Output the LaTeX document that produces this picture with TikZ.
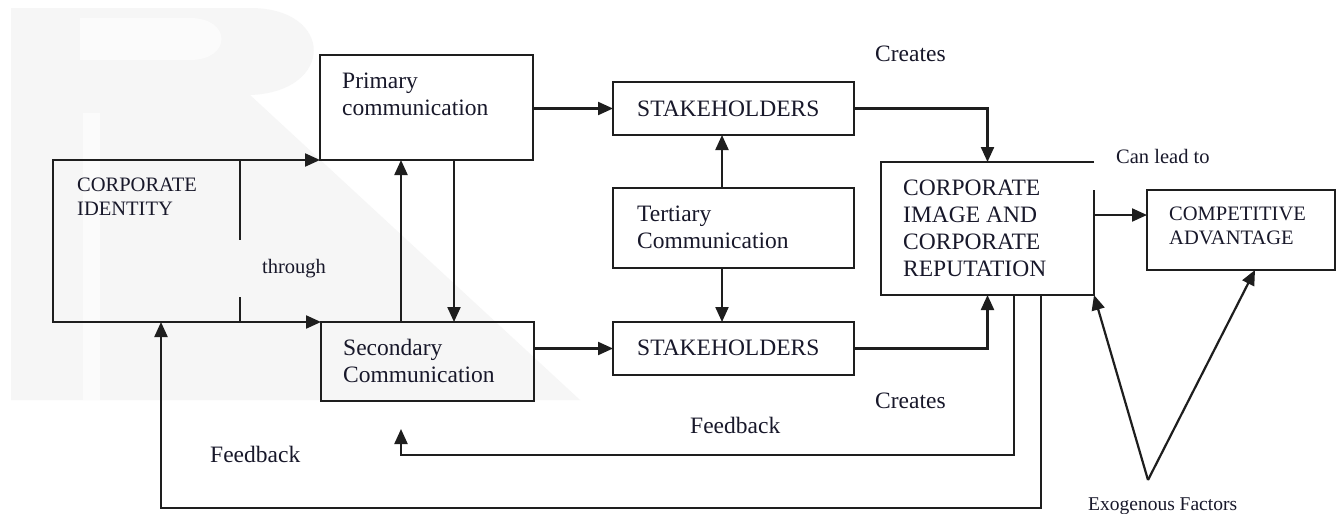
\documentclass[tikz,border=0pt]{standalone}
\usepackage{fontspec}
\setmainfont{Liberation Serif}
\usetikzlibrary{arrows.meta,calc}
\definecolor{linec}{HTML}{1E1E1E}
\definecolor{txt}{HTML}{18182A}
\definecolor{wm}{HTML}{F6F6F6}
\newcommand{\mlines}[1]{\begin{tabular}[t]{@{}l@{}}#1\end{tabular}}
\begin{document}
\begin{tikzpicture}[x=1pt,y=-1pt,
  box/.style={draw=linec, line width=2.2pt, inner sep=0pt, outer sep=0pt, anchor=north west},
  hid/.style={inner sep=0pt, outer sep=0pt, anchor=north west},
  ln/.style={draw=linec, line width=2.2pt},
  arr/.style={ln, -{Triangle[length=15pt,width=13pt]}},
  big/.style={inner sep=0pt, anchor=base west, text=txt, font=\fontsize{23.5}{27}\selectfont},
  small/.style={inner sep=0pt, anchor=base west, text=txt, font=\fontsize{20.5}{24.5}\selectfont},
]
\useasboundingbox (0,0) rectangle (1342,514);
\fill[white] (0,0) rectangle (1342,514);
% faint watermark
\fill[wm] (11,8) -- (250,8) .. controls (335,8) and (335,92) .. (250,95) -- (580,400) -- (11,400) -- cycle;
\fill[white!60!wm] (80,18) -- (190,18) .. controls (232,18) and (232,60) .. (190,60) -- (80,60) -- cycle;
\fill[white!60!wm] (83,113) rectangle (100,400);

% boxes
\node[hid, minimum width=187pt, minimum height=162pt] (ci) at (53,160) {};
\node[box, minimum width=213pt, minimum height=105pt] (pri) at (320,55) {};
\node[box, minimum width=213pt, minimum height=79pt] (sec) at (321,322) {};
\node[box, minimum width=241pt, minimum height=53pt] (sh1) at (613,82) {};
\node[box, minimum width=241pt, minimum height=80pt] (ter) at (613,188) {};
\node[box, minimum width=241pt, minimum height=53pt] (sh2) at (613,322) {};
\node[hid, minimum width=213pt, minimum height=133pt] (cir) at (881,162) {};
\node[box, minimum width=188pt, minimum height=80pt] (ca) at (1147,190) {};

% open outlines
\draw[ln] (ci.north east) -- (ci.north west) -- (ci.south west) -- (ci.south east);
\draw[ln] (ci.north east) -- ++(0,80);
\draw[ln] (ci.south east) -- ++(0,-25);
\draw[ln] (cir.north east) -- (cir.north west) -- (cir.south west) -- (cir.south east) -- ++(0,-105);

% texts
\node[small] (tci) at (77,191) {\mlines{CORPORATE\\IDENTITY}};
\node[small] (tthr) at (262,273) {through};
\node[big] (tpri) at (342,88) {\mlines{Primary\\communication}};
\node[big] (tsec) at (343,355) {\mlines{Secondary\\Communication}};
\node[big] (tsh1) at (637,116) {STAKEHOLDERS};
\node[big] (tter) at (637,221) {\mlines{Tertiary\\Communication}};
\node[big] (tsh2) at (637,355) {STAKEHOLDERS};
\node[big] (tcir) at (903,195) {\mlines{CORPORATE\\IMAGE AND\\CORPORATE\\REPUTATION}};
\node[small, font=\fontsize{20.5}{24}\selectfont] (tca) at (1169,220) {\mlines{COMPETITIVE\\ADVANTAGE}};
\node[big] (tcr1) at (875,61) {Creates};
\node[small] (tcan) at (1116,163) {Can lead to};
\node[big] (tcr2) at (875,408) {Creates};
\node[big] (tfb1) at (690,433) {Feedback};
\node[big] (tfb2) at (210,462) {Feedback};
\node[small, font=\fontsize{19.5}{23}\selectfont] (tex) at (1088,510) {Exogenous Factors};

% connectors
\draw[arr] (ci.north east) -- (pri.south west);
\draw[arr] (ci.south east) -- (sec.north west);
\draw[arr] ([xshift=80pt]sec.north west) -- ([xshift=80pt]sec.north west |- pri.south);
\draw[arr] ([xshift=134pt]pri.south west) -- ([xshift=134pt]pri.south west |- sec.north);
\draw[arr] (pri.east |- sh1.west) -- (sh1.west);
\draw[arr] (sec.east |- sh2.west) -- (sh2.west);
\draw[arr] ([xshift=109pt]ter.north west) -- ([xshift=109pt]ter.north west |- sh1.south);
\draw[arr] ([xshift=109pt]ter.south west) -- ([xshift=109pt]ter.south west |- sh2.north);
\draw[arr] (sh1.east) -| (cir.north);
\draw[arr] (sh2.east) -| (cir.south);
\coordinate (caw) at ([yshift=15pt]ca.west);
\draw[arr] (cir.east |- caw) -- (caw);
\coordinate (fbtip) at (401,429);
\draw[arr] ([xshift=133pt]cir.south west) |- (401,455) -- (fbtip);
\draw[arr] ([xshift=160pt]cir.south west) |- (161,508) -- ([xshift=108pt]ci.south west);
\coordinate (ex) at (1148,480);
\draw[arr] (ex) -- (cir.south east);
\draw[arr] (ex) -- ([xshift=108pt]ca.south west);
\end{tikzpicture}
\end{document}
